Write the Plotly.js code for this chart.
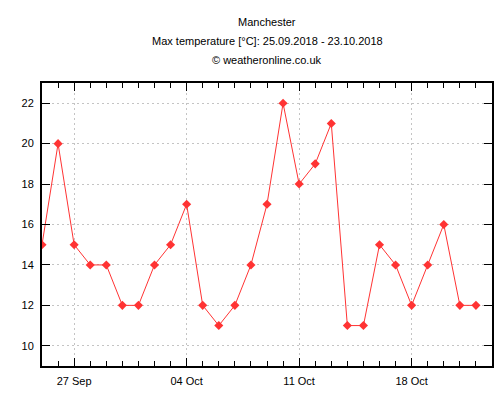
<!DOCTYPE html>
<html>
<head>
<meta charset="utf-8">
<script src="https://cdn.plot.ly/plotly-3.0.1.min.js"></script>
<style>html,body{margin:0;padding:0;background:#fff;}#chart{width:500px;height:400px;}</style>
</head>
<body>
<div id="chart"></div>
<script>
var dates = ["2018-09-25","2018-09-26","2018-09-27","2018-09-28","2018-09-29","2018-09-30",
  "2018-10-01","2018-10-02","2018-10-03","2018-10-04","2018-10-05","2018-10-06","2018-10-07",
  "2018-10-08","2018-10-09","2018-10-10","2018-10-11","2018-10-12","2018-10-13","2018-10-14",
  "2018-10-15","2018-10-16","2018-10-17","2018-10-18","2018-10-19","2018-10-20","2018-10-21","2018-10-22"];
var maxTemp = [15,20,15,14,14,12,12,14,15,17,12,11,12,14,17,22,18,19,21,11,11,15,14,12,14,16,12,12];
var titleLines = ["Manchester","Max temperature [°C]: 25.09.2018 - 23.10.2018","© weatheronline.co.uk"];

var font = "Liberation Sans, Arial, Helvetica, sans-serif";
var trace = {
  x: dates, y: maxTemp, type: "scatter", mode: "lines+markers",
  line: {color: "#ff3333", width: 1},
  marker: {symbol: "diamond", size: 7, color: "#ff3333"},
  hoverinfo: "x+y"
};
var shifts = [61, 42, 23];
var annotations = titleLines.map(function(t, i){
  return {text: t, xref: "paper", yref: "paper", x: 0.5, y: 1, xanchor: "center", yanchor: "middle",
    yshift: shifts[i], showarrow: false, font: {family: font, size: 11, color: "#000"}};
});
var layout = {
  width: 500, height: 400,
  margin: {l: 42, r: 8, t: 83, b: 34},
  paper_bgcolor: "#fff", plot_bgcolor: "#fff",
  showlegend: false,
  font: {family: font, size: 11, color: "#000"},
  annotations: annotations,
  xaxis: {
    type: "date", range: ["2018-09-25", "2018-10-23"],
    tick0: "2018-09-27", dtick: 7*86400000, tickformat: "%d %b",
    ticks: "inside", ticklen: 8, tickwidth: 1, tickcolor: "#000",
    minor: {dtick: 86400000, tick0: "2018-09-25", ticks: "inside", ticklen: 5, tickcolor: "#000", showgrid: false},
    showline: true, linecolor: "#000", linewidth: 2, mirror: "allticks",
    showgrid: true, gridcolor: "#c4c4c4", griddash: "2px,3px", gridwidth: 1,
    zeroline: false, ticklabelstandoff: 4,
    tickfont: {family: font, size: 11, color: "#000"}
  },
  yaxis: {
    range: [9, 23], tick0: 10, dtick: 2,
    ticks: "inside", ticklen: 8, tickwidth: 1, tickcolor: "#000",
    showline: true, linecolor: "#000", linewidth: 2, mirror: "allticks",
    showgrid: true, gridcolor: "#c4c4c4", griddash: "2px,3px", gridwidth: 1,
    zeroline: false, ticklabelstandoff: 4,
    tickfont: {family: font, size: 11, color: "#000"}
  }
};
Plotly.newPlot("chart", [trace], layout, {displayModeBar: false, staticPlot: true});
</script>
</body>
</html>
